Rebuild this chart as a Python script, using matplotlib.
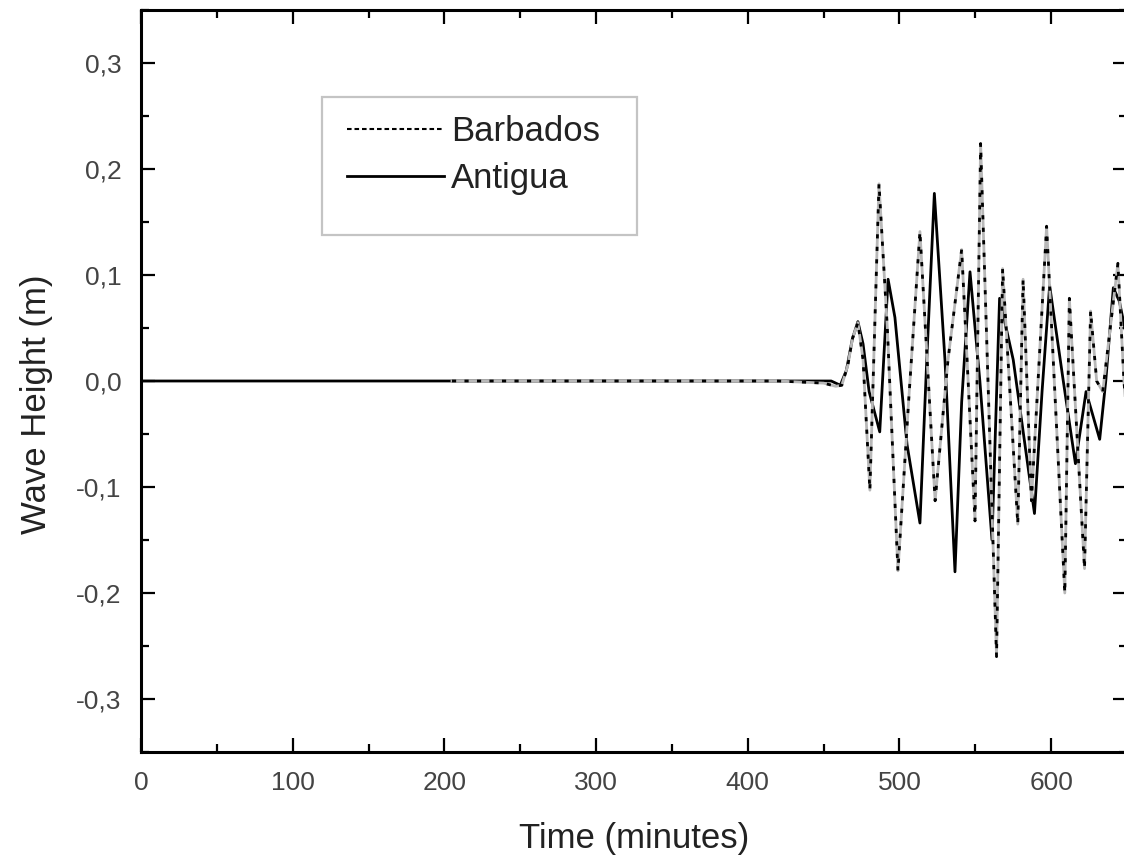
import numpy as np
import matplotlib
matplotlib.use('Agg')
import matplotlib.pyplot as plt
from matplotlib.lines import Line2D
from matplotlib.patches import Rectangle
from matplotlib.ticker import MultipleLocator, FuncFormatter

plt.rcParams['font.family'] = ['Liberation Sans', 'DejaVu Sans']

# Antigua (solid) - time in minutes, wave height in m
t_antigua = [0, 455, 461, 465, 469, 472.6, 476, 480, 487, 492.5, 497, 505, 513.5, 518,
             523, 530, 536.6, 541, 546.5, 553, 561, 566, 575, 589, 594, 599, 608,
             616, 623, 632, 636, 641, 645, 650]
h_antigua = [0.0, 0.0, -0.004, 0.01, 0.04, 0.056, 0.035, -0.01, -0.048, 0.096, 0.06, -0.06,
             -0.134, 0.02, 0.177, 0.02, -0.18, -0.02, 0.103, 0.0, -0.15, 0.078, 0.02,
             -0.125, -0.01, 0.09, 0.0, -0.078, -0.01, -0.055, 0.0, 0.088, 0.075, 0.04]

# Barbados (dashed)
t_barbados = [205, 420, 450, 458, 462, 466, 469, 472.6, 476, 480.5, 486.5, 492, 499, 506,
              513.5, 523.5, 532, 541, 549.8, 553.5, 564, 568, 578, 581.5, 587, 597, 609,
              612, 622, 626, 630, 634, 644, 648, 650]
h_barbados = [0.0, 0.0, -0.002, -0.005, -0.004, 0.015, 0.04, 0.055, 0.02, -0.103, 0.186,
              0.05, -0.179, -0.02, 0.141, -0.113, 0.02, 0.124, -0.132, 0.224, -0.26,
              0.106, -0.135, 0.096, -0.113, 0.146, -0.2, 0.078, -0.177, 0.066, 0.0,
              -0.01, 0.111, 0.0, -0.04]

fig = plt.figure(figsize=(11.24, 8.58), dpi=100)
ax = fig.add_axes([141 / 1124, 106 / 858, 986 / 1124, 742 / 858])

ax.plot(t_antigua, h_antigua, color='black', lw=2.0, zorder=2)
ax.plot(t_barbados, h_barbados, color='#b8b8b8', lw=2.0, zorder=3)
ax.plot(t_barbados, h_barbados, color='black', lw=2.0, dashes=(1.5, 3), zorder=4)

ax.set_xlim(0, 650)
ax.set_ylim(-0.35, 0.35)

ax.xaxis.set_major_locator(MultipleLocator(100))
ax.xaxis.set_minor_locator(MultipleLocator(50))
ax.yaxis.set_major_locator(MultipleLocator(0.1))
ax.yaxis.set_minor_locator(MultipleLocator(0.05))
ax.yaxis.set_major_formatter(FuncFormatter(lambda v, p: f'{v:.1f}'.replace('.', ',').replace('-0,0', '0,0')))

ax.tick_params(which='both', direction='in', top=True, right=True, width=1.6, colors='black',
               labelcolor='#444444', labelsize=19)
ax.tick_params(which='major', length=10)
ax.tick_params(which='minor', length=6)
ax.tick_params(axis='x', pad=14)
ax.tick_params(axis='y', pad=14)
for sp in ax.spines.values():
    sp.set_linewidth(2.2)

ax.set_xlabel('Time (minutes)', fontsize=25, color='#222222')
ax.set_ylabel('Wave Height (m)', fontsize=25, color='#222222')
ax.xaxis.set_label_coords(0.5, -0.095)
ax.yaxis.set_label_coords(-0.089, 0.468)

# legend
ax.add_patch(Rectangle((0.1836, 0.6968), 0.3195, 0.186, transform=ax.transAxes,
                       facecolor='white', edgecolor='#c4c4c4', lw=1.6, zorder=5))
handles = [Line2D([], [], color='black', lw=1.5, dashes=(2.2, 1.4)),
           Line2D([], [], color='black', lw=2)]
leg = ax.legend(handles, ['Barbados', 'Antigua'], loc='upper left',
                bbox_to_anchor=(0.209, 0.858), frameon=False, fontsize=25,
                handlelength=2.8, handletextpad=0.2, labelspacing=0.4, borderpad=0,
                borderaxespad=0)
leg.set_zorder(6)
for txt in leg.get_texts():
    txt.set_color('#222222')

fig.savefig('out.png', dpi=100)
